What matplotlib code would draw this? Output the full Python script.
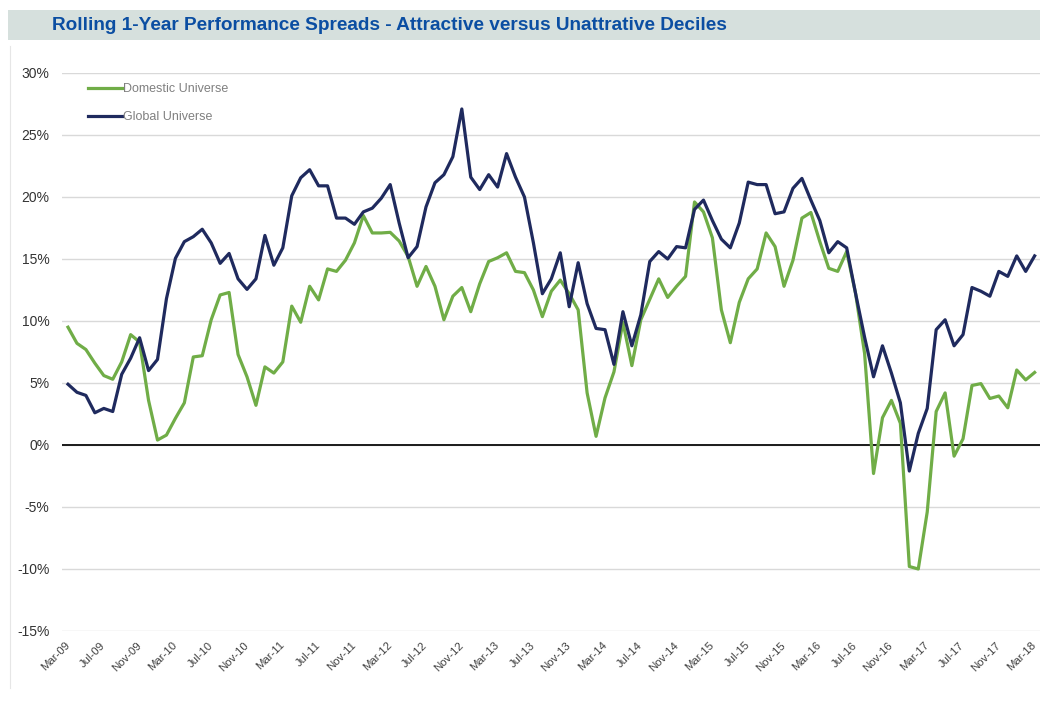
import matplotlib
matplotlib.use('Agg')
import matplotlib.pyplot as plt
from matplotlib.lines import Line2D
import numpy as np

TITLE = 'Rolling 1-Year Performance Spreads - Attractive versus Unattrative Deciles'

tick_labels = ['Mar-09', 'Jul-09', 'Nov-09', 'Mar-10', 'Jul-10', 'Nov-10', 'Mar-11',
               'Jul-11', 'Nov-11', 'Mar-12', 'Jul-12', 'Nov-12', 'Mar-13', 'Jul-13',
               'Nov-13', 'Mar-14', 'Jul-14', 'Nov-14', 'Mar-15', 'Jul-15', 'Nov-15',
               'Mar-16', 'Jul-16', 'Nov-16', 'Mar-17', 'Jul-17', 'Nov-17', 'Mar-18']

# monthly spreads in %, Mar-09 .. Mar-18
domestic = [9.5, 8.2, 7.7, 6.6, 5.6, 5.3, 6.7, 8.9, 8.3, 3.6,
            0.4, 0.8, 2.15, 3.4, 7.1, 7.2, 10.1, 12.1, 12.3, 7.3,
            5.5, 3.2, 6.3, 5.8, 6.7, 11.2, 9.9, 12.8, 11.7, 14.2,
            14.0, 14.9, 16.3, 18.5, 17.1, 17.1, 17.15, 16.45, 15.2, 12.8,
            14.4, 12.8, 10.1, 12.0, 12.7, 10.75, 13.0, 14.8, 15.1, 15.5,
            14.0, 13.9, 12.5, 10.35, 12.4, 13.3, 12.2, 10.9, 4.2, 0.7,
            3.8, 5.9, 9.9, 6.4, 10.1, 11.75, 13.4, 11.9, 12.8, 13.6,
            19.6, 18.8, 16.7, 10.9, 8.25, 11.5, 13.4, 14.2, 17.1, 16.0,
            12.8, 14.9, 18.3, 18.75, 16.4, 14.25, 14.0, 15.6, 12.2, 7.4,
            -2.3, 2.2, 3.6, 1.75, -9.8, -10.0, -5.4, 2.7, 4.2, -0.9,
            0.5, 4.8, 4.95, 3.75, 3.95, 3.0, 6.05, 5.25, 5.85]

global_u = [4.9, 4.25, 4.0, 2.6, 2.95, 2.7, 5.7, 7.0, 8.65, 6.0,
            6.9, 11.8, 15.05, 16.4, 16.8, 17.4, 16.3, 14.65, 15.45, 13.4,
            12.55, 13.4, 16.9, 14.5, 15.9, 20.1, 21.55, 22.2, 20.9, 20.9,
            18.3, 18.3, 17.8, 18.8, 19.1, 19.9, 21.0, 17.9, 15.1, 16.0,
            19.2, 21.15, 21.8, 23.25, 27.1, 21.6, 20.6, 21.8, 20.8, 23.5,
            21.6, 20.0, 16.3, 12.2, 13.4, 15.5, 11.15, 14.7, 11.4, 9.4,
            9.3, 6.5, 10.75, 8.0, 10.5, 14.8, 15.6, 15.0, 16.0, 15.9,
            19.0, 19.75, 18.1, 16.6, 15.9, 17.9, 21.2, 21.0, 21.0, 18.65,
            18.8, 20.7, 21.5, 19.75, 18.1, 15.5, 16.4, 15.9, 12.2, 8.7,
            5.5, 8.0, 5.8, 3.4, -2.1, 0.94, 2.95, 9.3, 10.1, 8.0,
            8.9, 12.7, 12.4, 12.0, 14.0, 13.6, 15.25, 14.0, 15.25]

GREEN = '#70AD47'
NAVY = '#1F2A5E'

plt.rcParams['font.family'] = ['Liberation Sans', 'DejaVu Sans']

W, H = 1040, 702
fig = plt.figure(figsize=(W / 100, H / 100), dpi=100)

# title band
band = fig.add_axes([8 / W, 1 - 40 / H, 1 - 8 / W, 30 / H])
band.set_facecolor('#D6E0DD')
band.set_xticks([])
band.set_yticks([])
for s in band.spines.values():
    s.set_visible(False)
band.text(44 / (W - 8), 0.5, TITLE, transform=band.transAxes, ha='left', va='center',
          fontsize=13.7, fontweight='bold', color='#0B4EA2')

# faint left border
fig.add_artist(Line2D([10 / W, 10 / W], [1 - 688 / H, 1 - 46 / H], color='#E6E6E6', lw=0.8))

ax = fig.add_axes([62 / W, 1 - 631 / H, 1 - 62 / W, (631 - 73) / H])
x = np.arange(len(domestic))
ax.plot(x, domestic, color=GREEN, lw=2.3, label='Domestic Universe', zorder=3)
ax.plot(x, global_u, color=NAVY, lw=2.3, label='Global Universe', zorder=4)

ax.set_xlim(-0.67, 108.6)
ax.set_ylim(-15, 30)
yt = np.arange(-15, 31, 5)
ax.set_yticks(yt)
ax.set_yticklabels([f'{v}%' for v in yt], fontsize=10, color='#333333')
ax.grid(axis='y', color='#D9D9D9', lw=1)
ax.axhline(0, color='#1a1a1a', lw=1.4, zorder=2)
ax.set_axisbelow(True)
ax.set_xticks(np.arange(0, len(domestic), 4))
ax.set_xticklabels(tick_labels, rotation=45, ha='right', va='center',
                   rotation_mode='anchor', fontsize=8.2, color='#404040')
ax.tick_params(length=0)
ax.tick_params(axis='x', pad=9)
ax.tick_params(axis='y', pad=9)
for s in ax.spines.values():
    s.set_visible(False)

leg = ax.legend(loc='upper left', bbox_to_anchor=(15 / 978, 1 + 1 / 558), frameon=False,
                handlelength=2.7, handletextpad=0.1, labelspacing=1.25,
                prop={'size': 9})
for t in leg.get_texts():
    t.set_color('#808080')

fig.savefig('out.png', dpi=100)
